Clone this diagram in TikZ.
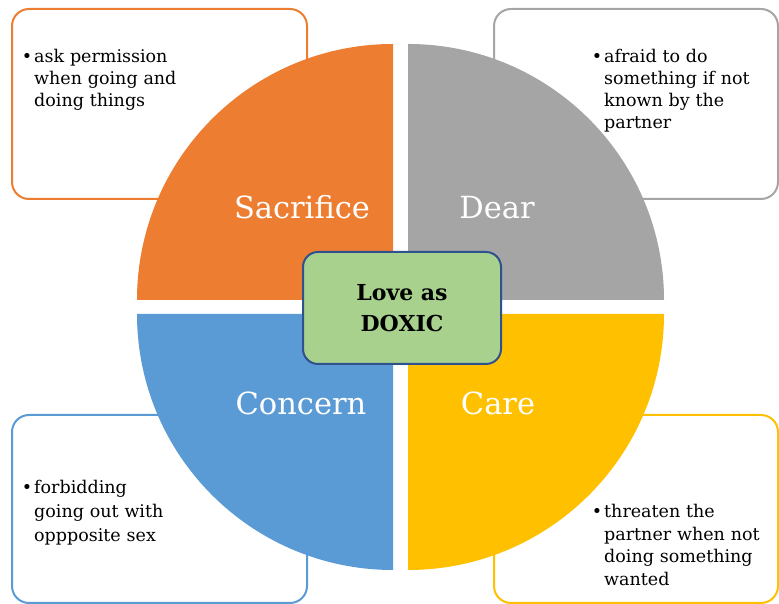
\documentclass[tikz,border=0pt]{standalone}
\usepackage{fontspec}
\setmainfont{DejaVu Serif}
\definecolor{corange}{HTML}{ED7D31}
\definecolor{cgray}{HTML}{A5A5A5}
\definecolor{cyellow}{HTML}{FFC000}
\definecolor{cblue}{HTML}{5B9BD5}
\definecolor{cgreen}{HTML}{A9D18E}
\definecolor{cdark}{HTML}{2F528F}
\begin{document}
\begin{tikzpicture}[x=1pt,y=1pt,
  sidebox/.style={draw=#1, line width=2pt, fill=white, rounded corners=17pt},
  sector/.style={fill=#1},
  seclabel/.style={text=white, font=\fontsize{30.5}{36}\selectfont, anchor=base, inner sep=0pt},
  bullettext/.style={font=\fontsize{17.5}{#1}\selectfont, anchor=base west, inner sep=0pt, text width=180pt, align=left},
  bullettext/.default=22pt,
  centerbox/.style={draw=cdark, line width=2pt, fill=cgreen, rounded corners=15pt, minimum width=198pt, minimum height=112pt, font=\fontsize{22}{31}\selectfont\bfseries, align=center, inner sep=0pt}
]
\useasboundingbox (0,0) rectangle (779,604);
% side boxes
\draw[sidebox=corange] (12,405) rectangle (307,595);
\draw[sidebox=cgray] (494,405) rectangle (778,595);
\draw[sidebox=cblue] (12,1) rectangle (307,189);
\draw[sidebox=cyellow] (494,1) rectangle (778,189);
% sectors
\fill[sector=corange] (393,304) -- (137,304) arc[start angle=180, end angle=90, radius=256] -- cycle;
\fill[sector=cgray] (408,304) -- (664,304) arc[start angle=0, end angle=90, radius=256] -- cycle;
\fill[sector=cblue] (393,290) -- (137,290) arc[start angle=180, end angle=270, radius=256] -- cycle;
\fill[sector=cyellow] (408,290) -- (664,290) arc[start angle=0, end angle=-90, radius=256] -- cycle;
% labels
\node[seclabel] (sac) at (302,385) {Sacrifice};
\node[seclabel] (dear) at (497,385) {Dear};
\node[seclabel] (con) at (301,189) {Concern};
\node[seclabel] (care) at (498,189) {Care};
% center
\node[centerbox] (center) at (402,296) {Love as\\DOXIC};
% bullet texts
\node[bullettext] (t1) at (34,541) {\llap{•\hspace{2pt}}ask permission\\when going and\\doing things};
\node[bullettext] (t2) at (604,541) {\llap{•\hspace{2pt}}afraid to do\\something if not\\known by the\\partner};
\node[bullettext=24pt] (t3) at (34,110) {\llap{•\hspace{2pt}}forbidding\\going out with\\oppposite sex};
\node[bullettext=22.5pt] (t4) at (604,86) {\llap{•\hspace{2pt}}threaten the\\partner when not\\doing something\\wanted};
\end{tikzpicture}
\end{document}
